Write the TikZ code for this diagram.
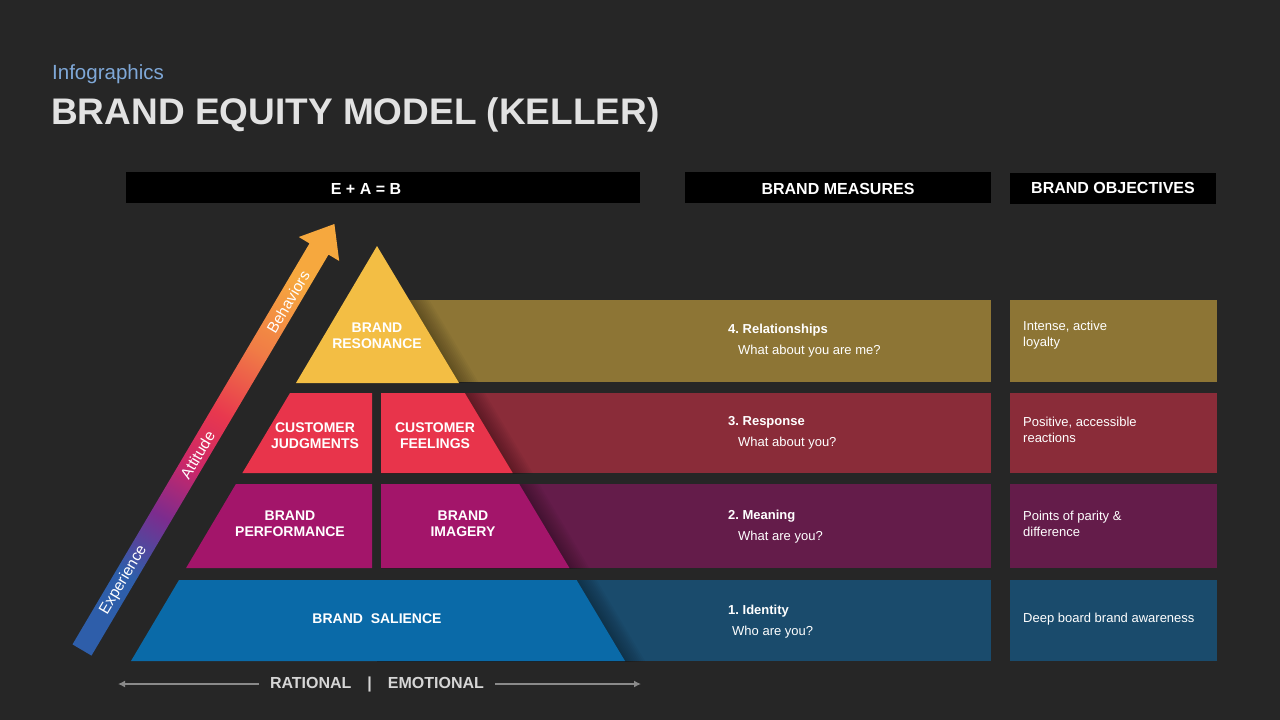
\documentclass[tikz,border=0pt]{standalone}
\usepackage{fontspec}
\setmainfont{Liberation Sans}
\usetikzlibrary{arrows.meta,positioning}
\definecolor{bg}{HTML}{262626}
\definecolor{ltblue}{HTML}{7FA8D8}
\definecolor{ttlgray}{HTML}{E2E2E2}
\definecolor{ltgray}{HTML}{D6D6D6}
\definecolor{dimgray}{HTML}{8A8A8A}
\definecolor{pyel}{HTML}{F3BE44}
\definecolor{pred}{HTML}{E8344B}
\definecolor{pmag}{HTML}{A3156A}
\definecolor{pblue}{HTML}{0A6AA8}
\definecolor{rgold}{HTML}{8D7535}
\definecolor{rred}{HTML}{8A2C39}
\definecolor{rpurp}{HTML}{641C4A}
\definecolor{rblue}{HTML}{1A4B6C}
\definecolor{ablue}{HTML}{2E5EAA}
\definecolor{apurp}{HTML}{7C2C8E}
\definecolor{amag}{HTML}{CC2768}
\definecolor{ared}{HTML}{E8384E}
\definecolor{aorange}{HTML}{F07C46}
\definecolor{ayel}{HTML}{F6A83E}
\pgfdeclareverticalshading{arrowgrad}{100bp}{color(0bp)=(ablue); color(29bp)=(ablue); color(38bp)=(apurp); color(46bp)=(amag); color(54bp)=(ared); color(64bp)=(aorange); color(75bp)=(ayel); color(100bp)=(ayel)}
\tikzset{
  hbar/.style={fill=black, minimum height=31pt, inner sep=0pt},
  htxt/.style={inner sep=0pt, text=white!93, font=\bfseries\fontsize{16}{18}\selectfont},
  plab/.style={text=white, align=center, inner sep=0pt, font=\bfseries\fontsize{14}{16}\selectfont},
  alab/.style={text=white, inner sep=0pt, rotate=59.4, font=\fontsize{15.5}{18}\selectfont},
  mtit/.style={anchor=west, inner sep=0pt, text=white!93, font=\bfseries\fontsize{13}{15}\selectfont},
  msub/.style={anchor=west, inner sep=0pt, text=white!90, font=\fontsize{13}{15}\selectfont},
  otxt/.style={anchor=west, inner sep=0pt, align=left, text=white!90, font=\fontsize{13}{16}\selectfont},
  dimline/.style={draw=dimgray, line width=2.5pt, -{Latex[length=7pt,width=7pt]}},
}
\begin{document}
\begin{tikzpicture}[x=1pt, y=-1pt]
  \fill[bg] (0,0) rectangle (1280,720);
  % title
  \node[anchor=west, inner sep=0pt, text=ltblue, font=\fontsize{20.5}{24}\selectfont] (sub) at (52,74) {Infographics};
  \node[anchor=west, inner sep=0pt, text=ttlgray, font=\bfseries\fontsize{37}{40}\selectfont] (title) at (51,115) {BRAND EQUITY MODEL (KELLER)};
  % header bars
  \node[hbar, minimum width=514pt] (heab) at (383,187.5) {};
  \node[hbar, minimum width=306pt] (hmeas) at (838,187.5) {};
  \node[hbar, minimum width=206pt] (hobj) at (1113,188) {};
  \node[htxt] (teab) at (366,189) {E + A = B};
  \node[htxt] (tmeas) at (838,189) {BRAND MEASURES};
  \node[htxt] (tobj) at (1113,188) {BRAND OBJECTIVES};
  % rows behind the pyramid
  \foreach \ya/\yb/\xa/\col in {300/382/405/rgold, 393/473/460/rred, 484/568/515/rpurp, 580/661/570/rblue}{
    \fill[\col] (\xa,\ya) rectangle (991,\yb);
    \fill[\col] (1010,\ya) rectangle (1217,\yb);
  }
  % soft shadow right of the pyramid
  \foreach \s in {2,4,...,20}
    \foreach \ax/\ay/\bx/\by/\cx/\cy/\dx/\dy in {377/300/409.3/300/458.4/382/377/382, 381/393/464.8/393/512.7/473/381/473,
        381/484/519.2/484/569.4/568/381/568, 377/580/576.6/580/625/661/377/661}
      \fill[black, opacity=0.03] (\ax+\s,\ay) -- (\bx+\s,\by) -- (\cx+\s,\cy) -- (\dx,\dy) -- cycle;
  % pyramid
  \fill[pyel] (377,246) -- (459,383) -- (296,383) -- cycle;
  \fill[pred] (290,393) -- (372,393) -- (372,473) -- (242.4,473) -- cycle;
  \fill[pred] (381,393) -- (464.8,393) -- (512.7,473) -- (381,473) -- cycle;
  \fill[pmag] (235.9,484) -- (372,484) -- (372,568) -- (186.1,568) -- cycle;
  \fill[pmag] (381,484) -- (519.2,484) -- (569.4,568) -- (381,568) -- cycle;
  \fill[pblue] (179,580) -- (576.6,580) -- (625,661) -- (131,661) -- cycle;
  \node[plab] (res) at (377,336) {BRAND\\RESONANCE};
  \node[plab] (jud) at (315,436) {CUSTOMER\\JUDGMENTS};
  \node[plab] (fee) at (435,436) {CUSTOMER\\FEELINGS};
  \node[plab] (perf) at (290,524) {BRAND\\PERFORMANCE};
  \node[plab] (img) at (463,524) {BRAND\\IMAGERY};
  \node[plab] (sal) at (377,619) {BRAND\ \ SALIENCE};
  % rising arrow
  \shade[shading=arrowgrad, shading angle=-30.6] (72.5,644.4) -- (91.5,655.6) -- (328.5,254.6) -- (339.2,261)
    -- (334.4,224) -- (298.8,237) -- (309.5,243.4) -- cycle;
  \node[alab] (beh) at (288.2,302) {Behaviors};
  \node[alab] (att) at (197.5,455) {Attitude};
  \node[alab] (expe) at (123.5,580) {Experience};
  % measures
  \foreach \nm/\yy/\ttl/\sub/\dx in {4/330/Relationships/{What about you are me?}/10, 3/422/Response/{What about you?}/10,
      2/516/Meaning/{What are you?}/10, 1/611/Identity/{Who are you?}/4}{
    \node[mtit] (mt\nm) at (728,\yy) {\nm.\ \ttl};
    \node[msub] (ms\nm) at (728+\dx,\yy+21) {\sub};
  }
  % objectives
  \foreach \nm/\yy/\txt in {4/335/{Intense, active\\loyalty}, 3/430/{Positive, accessible\\reactions},
      2/524/{Points of parity \&\\difference}, 1/619/{Deep board brand awareness}}
    \node[otxt] (ob\nm) at (1023,\yy) {\txt};
  % rational | emotional
  \node[inner xsep=11pt, inner ysep=0pt, text=ltgray, font=\bfseries\fontsize{16}{18}\selectfont] (ratemo) at (377,684) {RATIONAL\quad|\quad EMOTIONAL};
  \coordinate (rl) at (118,684);
  \coordinate (rr) at (641,684);
  \draw[dimline] (ratemo.west) -- (rl);
  \draw[dimline] (ratemo.east) -- (rr);
\end{tikzpicture}
\end{document}
